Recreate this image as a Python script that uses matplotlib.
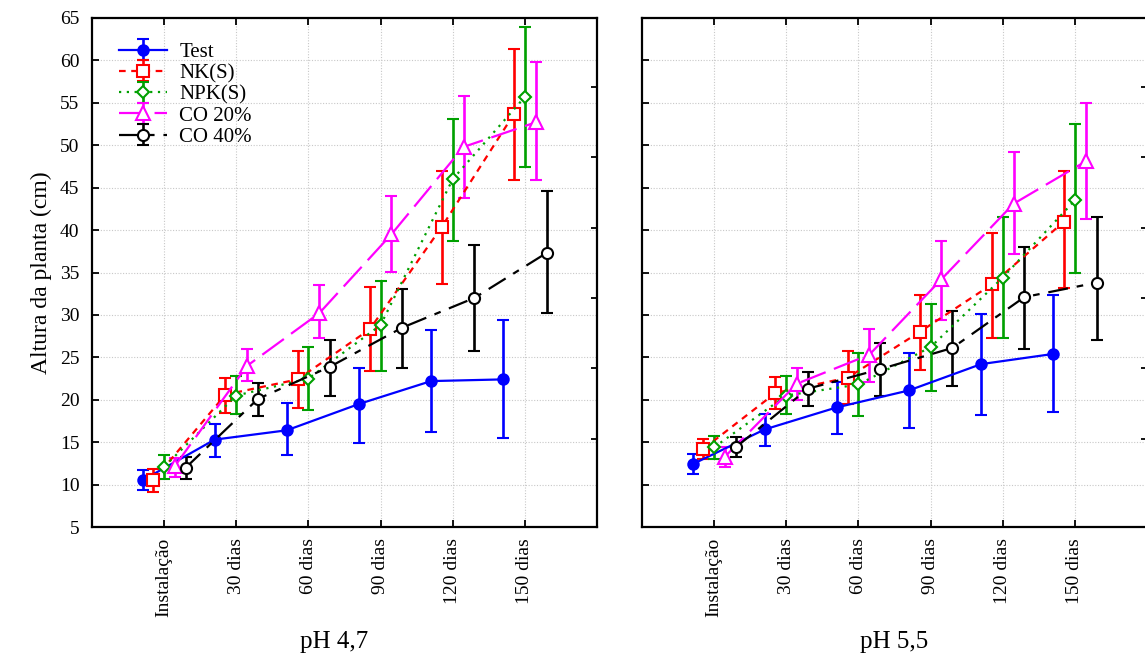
import matplotlib
matplotlib.use("Agg")
import matplotlib.pyplot as plt
import numpy as np

plt.rcParams['font.family'] = ['Liberation Serif', 'DejaVu Serif']

# === DATA
categories = ["Instalação", "30 dias", "60 dias", "90 dias", "120 dias", "150 dias"]
series = ["Test", "NK(S)", "NPK(S)", "CO 20%", "CO 40%"]

# pH 4,7 : mean, lower end of bar, upper end of bar
test_47 = [10.5, 15.3, 16.4, 19.5, 22.2, 22.4]
test_47_lo = [9.4, 13.2, 13.5, 14.9, 16.2, 15.5]
test_47_hi = [11.7, 17.1, 19.6, 23.8, 28.2, 29.4]
nk_47 = [10.5, 20.6, 22.4, 28.3, 40.4, 53.7]
nk_47_lo = [9.1, 18.4, 19.0, 23.4, 33.6, 45.9]
nk_47_hi = [11.8, 22.6, 25.8, 33.3, 47.0, 61.3]
npk_47 = [12.1, 20.5, 22.5, 28.8, 46.0, 55.7]
npk_47_lo = [10.7, 18.3, 18.8, 23.4, 38.7, 47.4]
npk_47_hi = [13.5, 22.8, 26.2, 34.0, 53.1, 63.9]
co20_47 = [12.2, 24.0, 30.2, 39.5, 49.8, 52.7]
co20_47_lo = [10.9, 22.2, 27.3, 35.1, 43.8, 45.9]
co20_47_hi = [13.1, 26.0, 33.5, 44.0, 55.8, 59.8]
co40_47 = [12.0, 20.1, 23.9, 28.5, 32.0, 37.3]
co40_47_lo = [10.7, 18.1, 20.5, 23.7, 25.7, 30.2]
co40_47_hi = [13.2, 22.0, 27.0, 33.1, 38.2, 44.6]

# pH 5,5
test_55 = [12.4, 16.5, 19.1, 21.1, 24.2, 25.4]
test_55_lo = [11.2, 14.5, 16.0, 16.7, 18.2, 18.5]
test_55_hi = [13.6, 18.3, 22.1, 25.5, 30.1, 32.3]
nk_55 = [14.2, 20.8, 22.6, 28.0, 33.6, 41.0]
nk_55_lo = [13.0, 18.9, 19.5, 23.5, 27.3, 33.2]
nk_55_hi = [15.4, 22.7, 25.7, 32.3, 39.7, 47.0]
npk_55 = [14.4, 20.5, 21.8, 26.2, 34.4, 43.5]
npk_55_lo = [13.0, 18.3, 18.1, 21.0, 27.3, 35.0]
npk_55_hi = [15.7, 22.8, 25.5, 31.3, 41.6, 52.5]
co20_55 = [13.3, 21.9, 25.3, 34.2, 43.1, 48.1]
co20_55_lo = [12.1, 20.0, 22.1, 29.4, 37.2, 41.3]
co20_55_hi = [14.4, 23.8, 28.3, 38.7, 49.2, 55.0]
co40_55 = [14.4, 21.3, 23.6, 26.1, 32.1, 33.8]
co40_55_lo = [13.2, 19.3, 20.4, 21.6, 26.0, 27.0]
co40_55_hi = [15.6, 23.3, 26.7, 30.5, 38.0, 41.5]

panels = [
    ("pH 4,7", [(test_47, test_47_lo, test_47_hi), (nk_47, nk_47_lo, nk_47_hi),
                (npk_47, npk_47_lo, npk_47_hi), (co20_47, co20_47_lo, co20_47_hi),
                (co40_47, co40_47_lo, co40_47_hi)]),
    ("pH 5,5", [(test_55, test_55_lo, test_55_hi), (nk_55, nk_55_lo, nk_55_hi),
                (npk_55, npk_55_lo, npk_55_hi), (co20_55, co20_55_lo, co20_55_hi),
                (co40_55, co40_55_lo, co40_55_hi)]),
]

# === STYLES
colors = ["#0000ff", "#ff0000", "#00a000", "#ff00ff", "#000000"]
markers = ["o", "s", "D", "^", "o"]
msizes = [7.5, 8.5, 6.5, 9.5, 8]
faces = ["#0000ff", "white", "white", "white", "white"]
dashes = [(None, None), (3, 2.5), (1, 2.5), (12, 4), (9, 4, 3, 4)]
offsets = [-0.3, -0.15, 0.0, 0.15, 0.3]

fig = plt.figure(figsize=(11.45, 6.54), dpi=100)
ax_l = fig.add_axes([92 / 1145, 127 / 654, 505 / 1145, 509 / 654])
ax_r = fig.add_axes([642 / 1145, 127 / 654, 505 / 1145, 509 / 654], sharey=ax_l)

x = np.arange(len(categories))
handles = []

for ax, (title, data) in zip([ax_l, ax_r], panels):
    for i, (mean, lo, hi) in enumerate(data):
        mean = np.array(mean)
        yerr = [mean - np.array(lo), np.array(hi) - mean]
        eb = ax.errorbar(x + offsets[i], mean, yerr=yerr, color=colors[i],
                         marker=markers[i], ms=msizes[i], mfc=faces[i],
                         mec=colors[i], mew=1.5, lw=1.6, elinewidth=1.9,
                         capsize=4, capthick=1.6, label=series[i], zorder=3)
        if dashes[i][0] is not None:
            eb[0].set_dashes(dashes[i])
        if ax is ax_l:
            handles.append(eb)

    ax.set_xlim(-1, 6)
    ax.set_ylim(5, 65)
    ax.set_xticks(x)
    ax.set_xticklabels(categories, rotation=90, fontsize=14)
    ax.set_yticks(np.arange(5, 66, 5))
    ax.grid(True, color="#c8c8c8", linestyle=(0, (1, 1.5)), linewidth=0.8, zorder=0)
    ax.tick_params(direction="in", top=True, right=False, length=5, width=1.3,
                   labelsize=14)
    ax.tick_params(axis="x", pad=8)
    ax.tick_params(axis="y", pad=9)
    for sp in ax.spines.values():
        sp.set_linewidth(1.6)
    ax.set_xlabel(title, fontsize=18)

    # odd inner ticks on the right edge
    tw = ax.twinx()
    tw.set_ylim(5, 65)
    tw.set_yticks(56.9 - 8.3 * np.arange(6))
    tw.tick_params(direction="in", length=4, width=1.3, labelright=False)
    for sp in tw.spines.values():
        sp.set_visible(False)

ax_l.xaxis.set_label_coords(0.48, -0.205)
ax_r.xaxis.set_label_coords(0.50, -0.205)
ax_r.tick_params(labelleft=False)
ax_l.set_ylabel("Altura da planta (cm)", fontsize=17, labelpad=6)

ax_l.legend(handles=handles, loc="upper left", bbox_to_anchor=(0.02, 0.985),
            frameon=False, fontsize=15, handlelength=2.3, labelspacing=0.08,
            borderpad=0.3, handletextpad=0.6)

fig.savefig("out.png", dpi=100)
